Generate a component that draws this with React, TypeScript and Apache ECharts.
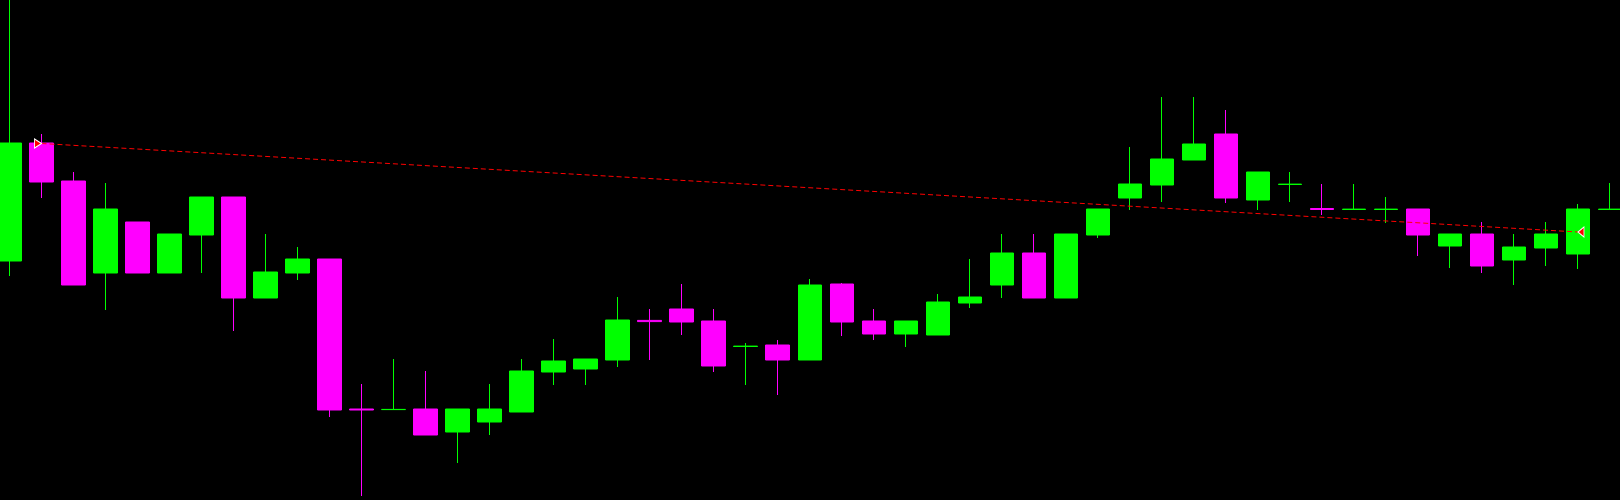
import React, { useEffect, useRef } from "react";
import * as echarts from "echarts";

// Bar index labels (no axis is shown in the reference)
const categories: string[] = Array.from({ length: 51 }, (_, i) => String(i + 1));

// Candle values, in chart levels (0 = bottom edge, 500 = top edge)
const opens: number[] = [
  239, 357, 319, 227, 278, 227, 265, 303, 202, 227,
  241, 91, 90.4, 91, 68, 78, 88, 128, 131, 140,
  179.6, 191, 179, 153.5, 155, 140, 216, 179, 166, 165,
  197, 215, 247, 202, 265, 302, 315, 340, 366, 300,
  315.5, 291.5, 290.5, 290.5, 291, 254, 266, 240, 252, 246,
  290.5,
];
const closes: number[] = [
  357, 318, 215, 291, 227, 266, 303, 202, 228, 241,
  90, 90, 90.6, 65, 91, 91, 129, 139, 141, 180,
  178.4, 178, 134, 153.9, 140, 215, 178, 166, 179, 198,
  203, 247, 202, 266, 291, 316, 341, 356, 302, 328,
  315.9, 290.5, 290.9, 290.9, 265, 266, 234, 253, 266, 291,
  290.9,
];
const lows: number[] = [
  224, 302, 215, 190, 227, 227, 227, 169, 202, 220,
  83, 4, 90.4, 65, 37, 65, 88, 115, 115, 133,
  140, 165, 128, 115, 105, 140, 164, 160, 153, 165,
  192, 202, 202, 202, 262, 290, 298, 340, 297, 290,
  298, 285, 290.5, 277, 244, 232, 227, 215, 234, 231,
  290.5,
];
const highs: number[] = [
  500, 366, 328, 317, 278, 266, 303, 303, 266, 253,
  241, 116, 141, 129, 91, 116, 141, 161, 141, 203,
  191, 216, 191, 157, 160, 221, 217, 191, 179, 206,
  241, 266, 266, 266, 291, 353, 403, 403, 390, 328,
  328, 316, 316, 303, 291, 266, 278, 266, 278, 296,
  317,
];

// Dashed trend line: from bar 2 to bar 50
const trendIndex: number[] = [1, 49];
const trendValue: number[] = [356.5, 268];

export default function App() {
  const ref = useRef<HTMLDivElement>(null);

  useEffect(() => {
    document.body.style.margin = "0";
    document.body.style.background = "#000000";
    if (!ref.current) return;
    const chart = echarts.init(ref.current, undefined, { renderer: "svg" });
    const candleData = categories.map((_, i) => [opens[i], closes[i], lows[i], highs[i]]);
    const trendData = trendIndex.map((x, i) => ({
      value: [x, trendValue[i]],
      symbolRotate: i === 0 ? -90 : 90,
      symbolSize: i === 0 ? [9, 7] : [10, 6],
      symbolOffset: i === 0 ? [-3.5, 0] : [3, 0],
    }));
    chart.setOption({
      animation: false,
      backgroundColor: "#000000",
      grid: { left: 0.5, right: 0, top: 0, bottom: 0, containLabel: false },
      xAxis: {
        type: "category",
        data: categories,
        show: false,
        boundaryGap: true,
      },
      yAxis: {
        type: "value",
        min: 0,
        max: 500,
        show: false,
      },
      tooltip: { show: false },
      series: [
        {
          type: "candlestick",
          data: candleData,
          barWidth: 24,
          clip: true,
          itemStyle: {
            color: "#00ff00",
            color0: "#ff00ff",
            borderColor: "#00ff00",
            borderColor0: "#ff00ff",
            borderWidth: 1,
          },
          emphasis: { disabled: true },
          z: 2,
        },
        {
          type: "line",
          data: trendData,
          symbol: "triangle",
          showSymbol: true,
          itemStyle: { color: "#ff0000", borderColor: "#ffffff", borderWidth: 1 },
          lineStyle: { color: "#ff0000", width: 1, type: [5, 3] },
          emphasis: { disabled: true },
          z: 5,
        },
      ],
    });
    return () => chart.dispose();
  }, []);

  return (
    <div
      style={{
        position: "fixed",
        left: 0,
        top: 0,
        width: 1620,
        height: 500,
        background: "#000000",
        overflow: "hidden",
      }}
    >
      <div
        ref={ref}
        style={{ position: "absolute", left: -7, top: 0, width: 1633, height: 500 }}
      />
    </div>
  );
}
